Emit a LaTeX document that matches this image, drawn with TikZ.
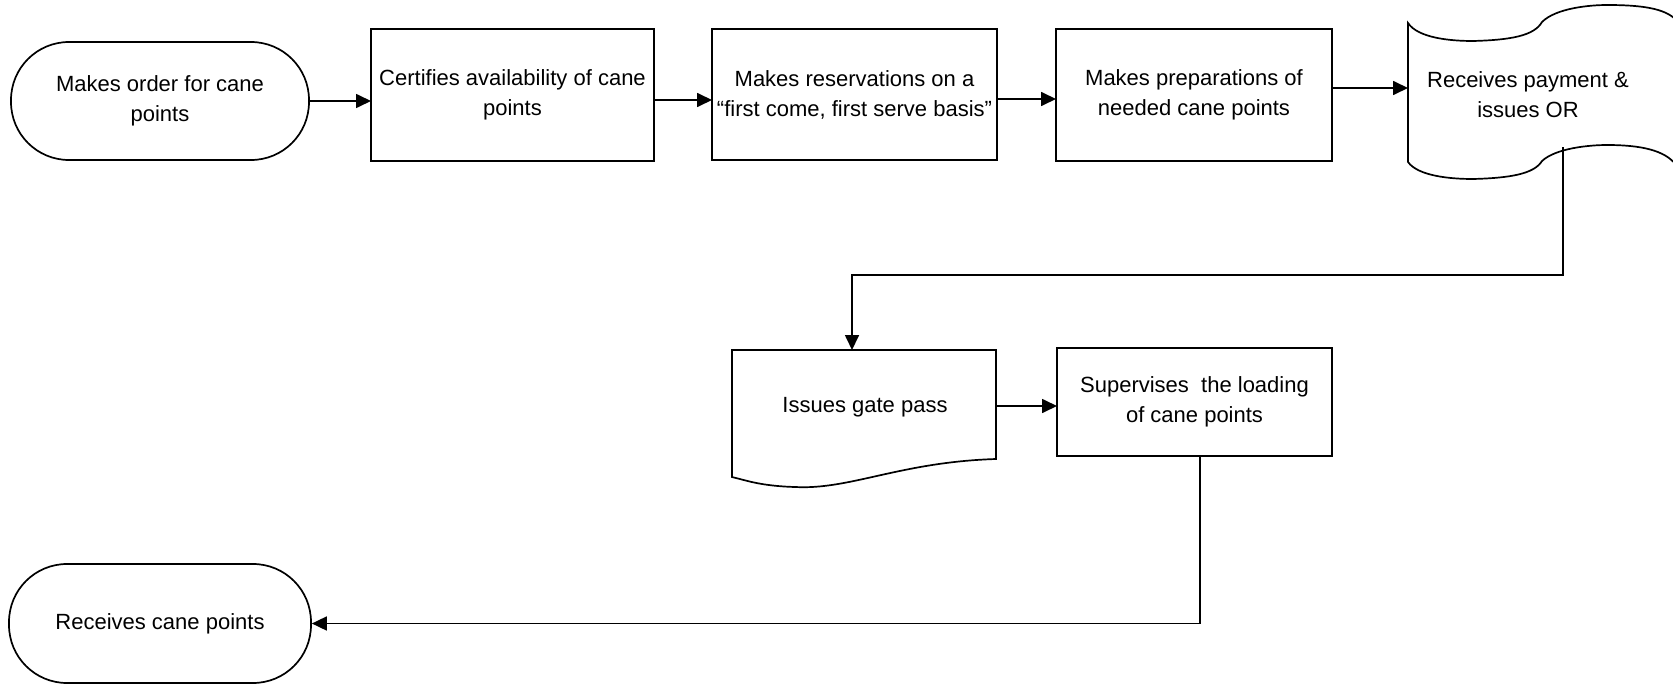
\documentclass[tikz,border=0pt]{standalone}
\usepackage{fontspec}
\setmainfont{Liberation Sans}
\usetikzlibrary{arrows.meta}
\begin{document}
\begin{tikzpicture}[x=1pt,y=-1pt,
  line width=1.7pt,
  every node/.style={font=\fontsize{22}{30}\selectfont, align=center, inner sep=0pt},
  box/.style={draw, rectangle},
  term/.style={draw, rectangle, rounded corners=58pt},
  arr/.style={-{Triangle[length=15pt,width=14pt]}}]
\useasboundingbox (0,0) rectangle (1673,685);

% nodes
\node[term, minimum width=298pt, minimum height=118pt] (t1) at (160,101) {Makes order for cane\\points};
\node[box, minimum width=283pt, minimum height=132pt] (b2) at (512.5,95) {Certifies availability of cane\\points};
\node[box, minimum width=285pt, minimum height=131pt] (b3) at (854.5,94.5) {Makes reservations on a\\“first come, first serve basis”};
\node[box, minimum width=276pt, minimum height=132pt] (b4) at (1194,95) {Makes preparations of\\needed cane points};
\node[minimum width=267pt, minimum height=174pt] (tape) at (1541,92) {};
\node at (1528,95) (tapetext) {Receives payment \&\\issues OR};
\node[minimum width=264pt, minimum height=109pt] (doc) at (864,404.5) {};
\node at (865,407) (doctext) {Issues gate pass};
\node[box, minimum width=275pt, minimum height=108pt] (sup) at (1194.5,402) {Supervises~ the loading\\of cane points};
\node[term, minimum width=302pt, minimum height=119pt] (t2) at (160,623.5) {Receives cane points};

% tape shape
\draw (1408,23) .. controls (1418,38) and (1450,41) .. (1473,41)
  .. controls (1510,40) and (1534,36) .. (1542,22)
  .. controls (1556,8) and (1590,5) .. (1607,5)
  .. controls (1640,5) and (1665,8) .. (1676,20)
  -- (1676,165)
  .. controls (1665,150) and (1640,145) .. (1607,145)
  .. controls (1590,145) and (1556,148) .. (1542,161)
  .. controls (1534,174) and (1510,178) .. (1473,179)
  .. controls (1450,179) and (1418,176) .. (1408,162) -- cycle;

% document shape
\draw (732,477) -- (732,350) -- (996,350) -- (996,459)
  .. controls (900,462) and (850,490) .. (795,487)
  .. controls (760,486) and (745,480) .. (732,477) -- cycle;

% connectors
\coordinate (a1) at (371,101);
\draw[arr] (t1.east |- a1) -- (a1);
\coordinate (a2) at (654,100);
\coordinate (a2e) at (712,100);
\draw[arr] (a2) -- (a2e);
\coordinate (a3) at (997,99);
\coordinate (a3e) at (1056,99);
\draw[arr] (a3) -- (a3e);
\coordinate (a4) at (1332,88);
\coordinate (a4e) at (1408,88);
\draw[arr] (a4) -- (a4e);
\coordinate (tapeout) at (1563,147);
\coordinate (bend1) at (1563,275);
\coordinate (docin) at (852,350);
\draw[arr] (tapeout) -- (bend1) -| (docin);
\coordinate (a6) at (996,406);
\coordinate (a6e) at (1057,406);
\draw[arr] (a6) -- (a6e);
\coordinate (supout) at (1200,456);
\draw[arr] (supout) |- (t2.east);
\end{tikzpicture}
\end{document}
